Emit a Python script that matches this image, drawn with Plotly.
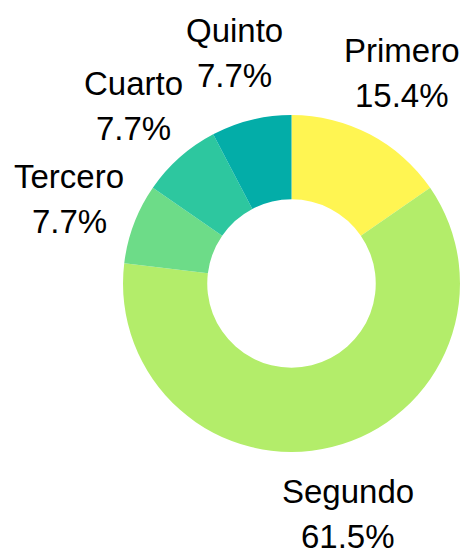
import numpy as np
import plotly.graph_objects as go

# reparto por puesto
etiquetas = ["Primero", "Segundo", "Tercero", "Cuarto", "Quinto"]
valores = [2, 8, 1, 1, 1]
colores = ["#fff552", "#b3ed6a", "#6ddc88", "#2dc79f", "#03ada8"]

ANCHO, ALTO = 462, 549
dominio = dict(x=[0.2662, 0.9957], y=[0.1767, 0.7905])

total = sum(valores)
porcentajes = [v / total * 100 for v in valores]

fig = go.Figure(go.Pie(labels=etiquetas, values=valores, hole=0.5,
                       sort=False, direction="clockwise", rotation=0,
                       marker=dict(colors=colores, line=dict(width=0)),
                       textinfo="none", hoverinfo="label+percent",
                       domain=dominio))

# etiquetas fuera del anillo, sobre el angulo medio de cada porcion
cx = sum(dominio["x"]) / 2
cy = sum(dominio["y"]) / 2
radio = (dominio["x"][1] - dominio["x"][0]) * ANCHO / 2
dist = radio * 1.41
acum = np.cumsum([0] + valores)
for i, (e, p) in enumerate(zip(etiquetas, porcentajes)):
    ang = np.radians((acum[i] + acum[i + 1]) / 2 / total * 360)
    x = cx + dist * np.sin(ang) / ANCHO
    y = cy + dist * np.cos(ang) / ALTO
    for txt, desp in [(e, 22.5), (f"{p:.1f}%", -22.5)]:
        fig.add_annotation(x=x, y=y, xref="paper", yref="paper",
                           text=txt, showarrow=False, yshift=desp,
                           xanchor="center", yanchor="middle",
                           font=dict(size=33, color="black"))

fig.update_layout(width=ANCHO, height=ALTO, showlegend=False,
                  font=dict(family="Liberation Sans, Arial, sans-serif"),
                  margin=dict(l=0, r=0, t=0, b=0),
                  paper_bgcolor="white")

fig.write_html("out.html", config={"displayModeBar": False},
               post_script="document.body.style.margin='0';")
